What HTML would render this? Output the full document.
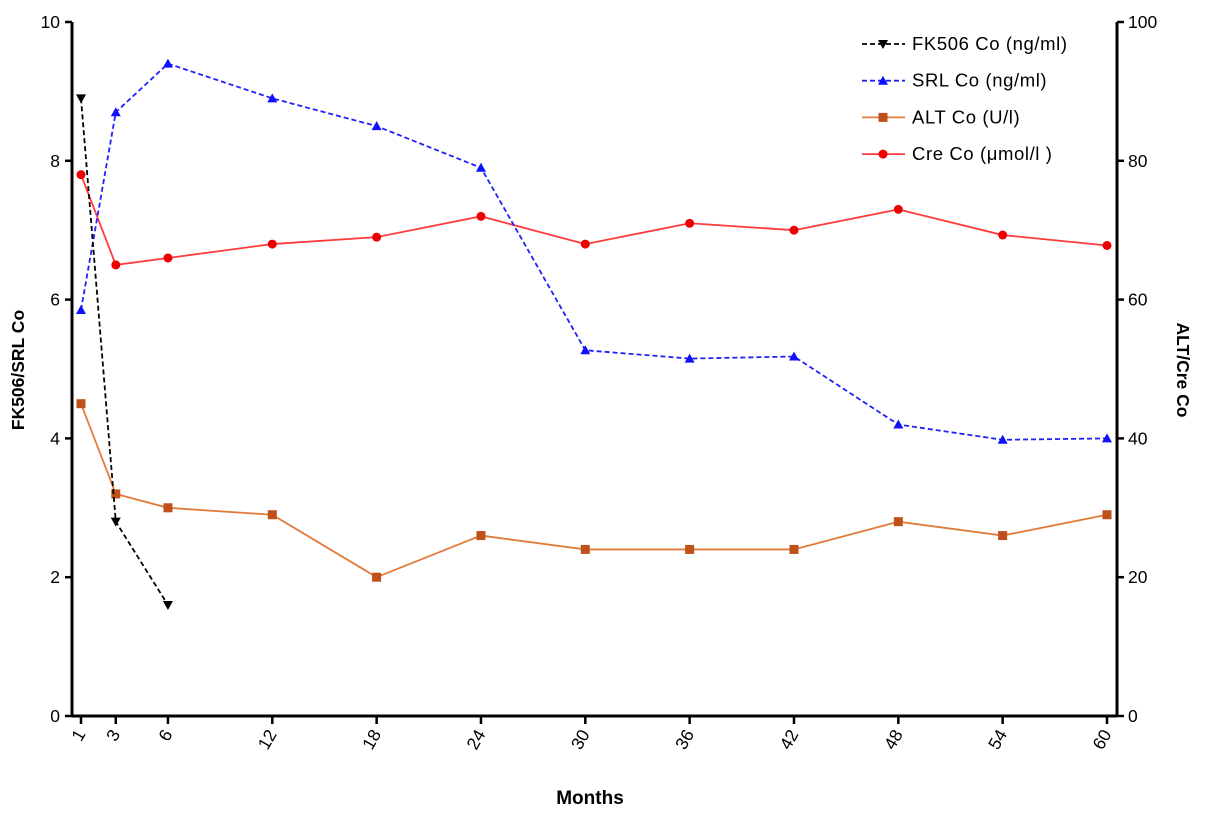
<!DOCTYPE html>
<html><head><meta charset="utf-8"><style>
body{margin:0;background:#fff;}
svg{display:block;font-family:"Liberation Sans",Arial,sans-serif;}
</style></head><body>
<svg id="chart" width="1205" height="816" viewBox="0 0 1205 816"></svg>
<script>
const months=[1,3,6,12,18,24,30,36,42,48,54,60];
const fkMonths=[1,3,6];
const fkValues=[8.9,2.8,1.6];
const srlValues=[5.85,8.7,9.4,8.9,8.5,7.9,5.27,5.15,5.18,4.2,3.98,4.0];
const altValues=[45,32,30,29,20,26,24,24,24,28,26,29];
const creValues=[78,65,66,68,69,72,68,71,70,73,69.3,67.8];
const leftTicks=[0,2,4,6,8,10];
const rightTicks=[0,20,40,60,80,100];

const NS="http://www.w3.org/2000/svg";
const svg=document.getElementById('chart');
const X0=72,X1=1117,Y0=716,Y1=22;
function xs(m){return 81+(m-1)*(1107-81)/59;}
function yl(v){return Y0-(v/10)*(Y0-Y1);}
function yr(v){return Y0-(v/100)*(Y0-Y1);}
function mk(tag,attrs,parent){const e=document.createElementNS(NS,tag);for(const k in attrs)e.setAttribute(k,attrs[k]);(parent||svg).appendChild(e);return e;}

let ax=mk('g',{});


mk('line',{x1:X0,y1:Y1,x2:X0,y2:Y0+1,stroke:'#000','stroke-width':3},ax);
mk('line',{x1:X1,y1:Y1,x2:X1,y2:Y0+1,stroke:'#000','stroke-width':3},ax);
mk('line',{x1:X0,y1:Y0,x2:X1,y2:Y0,stroke:'#000','stroke-width':3},ax);
leftTicks.forEach(v=>{
  mk('line',{x1:X0-7,y1:yl(v),x2:X0,y2:yl(v),stroke:'#000','stroke-width':2.5},ax);
  const t=mk('text',{x:X0-12,y:yl(v)+6,'text-anchor':'end','font-size':17.5},ax);t.textContent=v;
  
  
});
rightTicks.forEach(v=>{
  mk('line',{x1:X1,y1:yr(v),x2:X1+7,y2:yr(v),stroke:'#000','stroke-width':2.5},ax);
  const t=mk('text',{x:X1+11,y:yr(v)+6,'text-anchor':'start','font-size':17.5},ax);t.textContent=v;
  
  
});
months.forEach(m=>{
  const x=xs(m);
  mk('line',{x1:x,y1:Y0,x2:x,y2:Y0+8,stroke:'#000','stroke-width':2.5},ax);
  const t=mk('text',{x:x+5,y:Y0+18,'text-anchor':'end','font-size':17.5,transform:`rotate(-60 ${x+5} ${Y0+18})`},ax);t.textContent=m;
  
  
});
let tt=mk('text',{x:590,y:804,'text-anchor':'middle','font-size':19,'font-weight':'bold'});tt.textContent='Months';


tt=mk('text',{x:0,y:0,'text-anchor':'middle','font-size':17.5,'font-weight':'bold',transform:'translate(24 370) rotate(-90)'});tt.textContent='FK506/SRL Co';


tt=mk('text',{x:0,y:0,'text-anchor':'middle','font-size':17.5,'font-weight':'bold',transform:'translate(1177 370) rotate(90)'});tt.textContent='ALT/Cre Co';



function marker(g,type,x,y,c){
  if(type==='down')mk('polygon',{points:`${x-5},${y-4} ${x+5},${y-4} ${x},${y+5}`,fill:c},g);
  else if(type==='up')mk('polygon',{points:`${x-5},${y+4} ${x+5},${y+4} ${x},${y-5}`,fill:c},g);
  else if(type==='sq')mk('rect',{x:x-4.5,y:y-4.5,width:9,height:9,fill:c},g);
  else mk('circle',{cx:x,cy:y,r:4.5,fill:c},g);
}
function series(name,ms,vals,yf,color,mcolor,dash,type){
  const g=mk('g',{});
  
  
  const pts=ms.map((m,i)=>[xs(m),yf(vals[i])]);
  mk('polyline',{points:pts.map(p=>p.join(',')).join(' '),fill:'none',stroke:color,'stroke-width':1.8,'stroke-dasharray':dash||'none'},g);
  pts.forEach(p=>marker(g,type,p[0],p[1],mcolor));
}
series('alt-series',months,altValues,yr,'#e07b39','#c0501a',null,'sq');
series('cre-series',months,creValues,yr,'#ff3b3b','#ee0000',null,'circle');
series('srl-series',months,srlValues,yl,'#2020ff','#1010ff','5,3','up');
series('fk506-series',fkMonths,fkValues,yl,'#000','#000','5,3','down');

const leg=[['FK506 Co (ng/ml)','#000','#000','5,3','down'],['SRL Co (ng/ml)','#2020ff','#1010ff','5,3','up'],['ALT Co (U/l)','#e07b39','#c0501a',null,'sq'],['Cre Co (μmol/l )','#ff3b3b','#ee0000',null,'circle']];
leg.forEach((l,i)=>{
  const y=44+i*36.7;
  const g=mk('g',{});
  
  
  mk('line',{x1:862,y1:y,x2:905,y2:y,stroke:l[1],'stroke-width':1.8,'stroke-dasharray':l[3]||'none'},g);
  marker(g,l[4],883,y,l[2]);
  const t=mk('text',{x:912,y:y+6,'font-size':18.5,'letter-spacing':'0.6'},g);t.textContent=l[0];
});
</script>
</body></html>
